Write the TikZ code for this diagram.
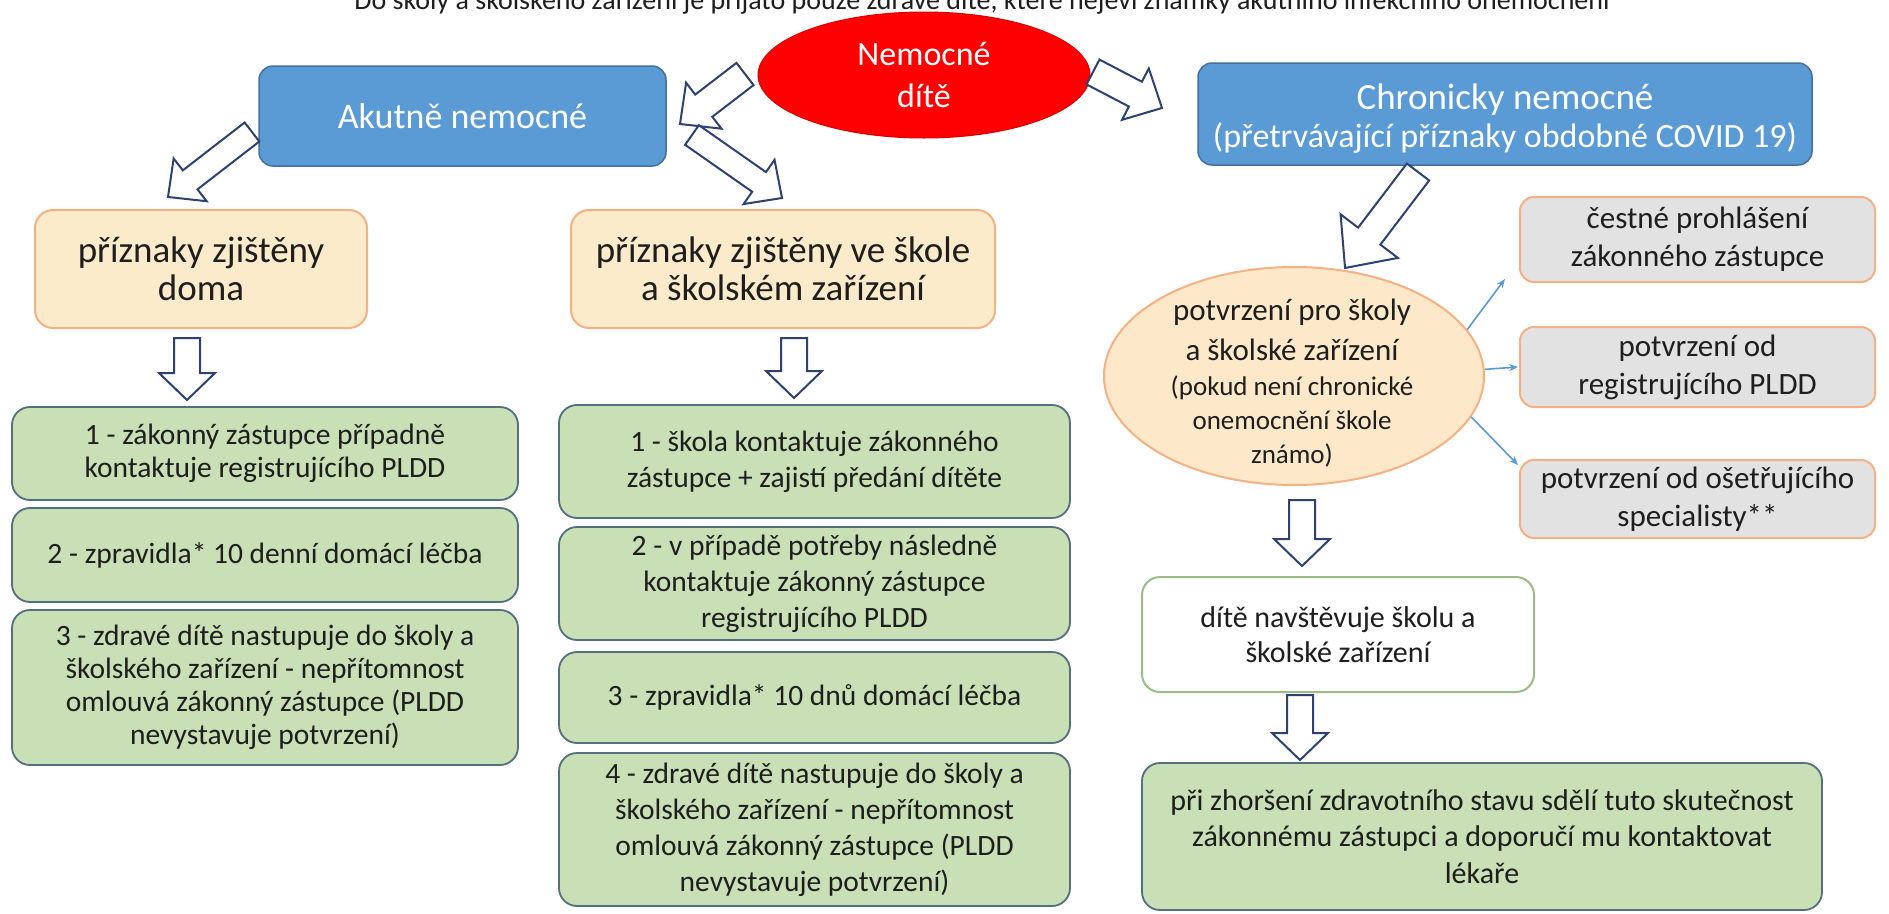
\documentclass[tikz,border=0pt]{standalone}
\usepackage{fontspec}
\setmainfont{Carlito}
\usetikzlibrary{calc,shapes.geometric,arrows.meta}
\definecolor{blueF}{HTML}{5B9BD5}
\definecolor{blueD}{HTML}{41719C}
\definecolor{redF}{HTML}{FF0000}
\definecolor{yelF}{HTML}{FCEBCB}
\definecolor{orgD}{HTML}{F4B183}
\definecolor{grnF}{HTML}{C9DFB5}
\definecolor{grnD}{HTML}{52707E}
\definecolor{gryF}{HTML}{E2E2E2}
\definecolor{pchF}{HTML}{FDE9C9}
\definecolor{navy}{HTML}{2F4170}
\definecolor{ltgrn}{HTML}{9CBB88}
\definecolor{txt}{HTML}{1E1E1E}
\newcommand\fs[2]{\fontsize{#1}{#2}\selectfont}
\newcommand\blockarr[5]{%
  \draw[navy, fill=white, line width=2pt, line join=miter]
    let \p1=(#1), \p2=(#2),
        \n1={atan2(\y2-\y1,\x2-\x1)},
        \n2={veclen(\x2-\x1,\y2-\y1)} in
    [shift={(\p1)}, rotate=\n1]
    (0,-#3) -- ({\n2-#5},-#3) -- ({\n2-#5},-#4) -- (\n2,0)
    -- ({\n2-#5},#4) -- ({\n2-#5},#3) -- (0,#3) -- cycle;}
\tikzset{
  base/.style={align=center, inner sep=0pt, text=txt},
  bluebox/.style={base, rectangle, rounded corners=14pt, fill=blueF, draw=blueD, line width=1.5pt, text=white},
  yelbox/.style={base, rectangle, rounded corners=18pt, fill=yelF, draw=orgD, line width=2pt, font=\fs{37}{38}},
  grnbox/.style={base, rectangle, rounded corners=18pt, fill=grnF, draw=grnD, line width=1.8pt, font=\fs{29.5}{33}},
  grnboxm/.style={grnbox, font=\fs{29.5}{36}},
  grybox/.style={base, rectangle, rounded corners=14pt, fill=gryF, draw=orgD, line width=2pt, font=\fs{31}{38}},
  thinarr/.style={blueF, line width=1.6pt, -{Stealth[length=9pt,width=7pt]}}
}
\begin{document}
\begin{tikzpicture}[x=1pt,y=-1pt]
\useasboundingbox (0,0) rectangle (1889,913);
\fill[white] (0,0) rectangle (1889,913);

\node[anchor=base, font=\fs{28}{32}, text=txt, inner sep=0pt] (title) at (982,9)
  {Do školy a školského zařízení je přijato pouze zdravé dítě, které nejeví známky akutního infekčního onemocnění};

% top level
\node[base, ellipse, fill=redF, draw=red!85!black, line width=1pt, minimum width=332pt, minimum height=126pt,
  text=white, font=\fs{34}{42}] (ell) at (924,75) {Nemocné\\dítě};
\node[bluebox, minimum width=407pt, minimum height=100pt, font=\fs{36}{40}] (ak) at (462.5,116) {Akutně nemocné};
\node[bluebox, minimum width=614pt, minimum height=102pt] (ch) at (1505,114) {};
\node[base, text=white, font=\fs{34}{38}] (chT) at (1505,119)
  {\fs{37}{38}Chronicky nemocné\\(přetrvávající příznaky obdobné COVID 19)};

% acute branch
\node[yelbox, minimum width=332pt, minimum height=118pt] (yl) at (201,269) {příznaky zjištěny\\doma};
\node[yelbox, minimum width=424pt, minimum height=118pt] (ym) at (783,269) {příznaky zjištěny ve škole\\a školském zařízení};

\node[grnbox, minimum width=506pt, minimum height=93pt] (gl1) at (265,453.5)
  {1 - zákonný zástupce případně\\kontaktuje registrujícího PLDD};
\node[grnbox, minimum width=506pt, minimum height=94pt] (gl2) at (265,555)
  {2 - zpravidla* 10 denní domácí léčba};
\node[grnbox, minimum width=506pt, minimum height=155pt] (gl3) at (265,687.5)
  {3 - zdravé dítě nastupuje do školy a\\školského zařízení - nepřítomnost\\omlouvá zákonný zástupce (PLDD\\nevystavuje potvrzení)};

\node[grnboxm, minimum width=511pt, minimum height=113pt] (gm1) at (814.5,461.5)
  {1 - škola kontaktuje zákonného\\zástupce + zajistí předání dítěte};
\node[grnboxm, minimum width=511pt, minimum height=113pt] (gm2) at (814.5,583.5)
  {2 - v případě potřeby následně\\kontaktuje zákonný zástupce\\registrujícího PLDD};
\node[grnboxm, minimum width=511pt, minimum height=91pt] (gm3) at (814.5,697.5)
  {3 - zpravidla* 10 dnů domácí léčba};
\node[grnboxm, minimum width=511pt, minimum height=153pt] (gm4) at (814.5,829.5)
  {4 - zdravé dítě nastupuje do školy a\\školského zařízení - nepřítomnost\\omlouvá zákonný zástupce (PLDD\\nevystavuje potvrzení)};

% chronic branch
\node[base, ellipse, fill=pchF, draw=orgD, line width=2pt, minimum width=380pt, minimum height=218pt] (pe) at (1294,376) {};
\node[base, font=\fs{31}{40}] (peT) at (1292,383)
  {potvrzení pro školy\\a školské zařízení\\[-5pt]\fs{27}{33}(pokud není chronické\\[-6pt]\fs{27}{33}onemocnění škole\\[-6pt]\fs{27}{33}známo)};
\node[grybox, minimum width=355pt, minimum height=85pt] (gr1) at (1697.5,239.5) {čestné prohlášení\\zákonného zástupce};
\node[grybox, minimum width=355pt, minimum height=80pt] (gr2) at (1697.5,367) {potvrzení od\\registrujícího PLDD};
\node[grybox, minimum width=355pt, minimum height=78pt] (gr3) at (1697.5,499) {potvrzení od ošetřujícího\\specialisty**};
\node[base, rectangle, rounded corners=18pt, fill=white, draw=ltgrn, line width=2pt, minimum width=392pt,
  minimum height=115pt, font=\fs{30}{35}] (dt) at (1338,634.5) {dítě navštěvuje školu a\\školské zařízení};
\node[grnbox, minimum width=680pt, minimum height=147pt, font=\fs{30}{36.7}] (gb) at (1482,836.5)
  {při zhoršení zdravotního stavu sdělí tuto skutečnost\\zákonnému zástupci a doporučí mu kontaktovat\\lékaře};

% block arrow end points
\coordinate (e2aS) at (745,74);   \coordinate (e2aE) at (680,124);
\coordinate (e2cS) at (1093,72);  \coordinate (e2cE) at (1162,108);
\coordinate (a2lS) at (252,132);  \coordinate (a2lE) at (168,197);
\coordinate (a2mS) at (692,135);  \coordinate (a2mE) at (782,198);
\coordinate (ylS) at (187,338);   \coordinate (ylE) at (187,400);
\coordinate (ymS) at (794,338);   \coordinate (ymE) at (794,398);
\coordinate (c2pS) at (1418,172); \coordinate (c2pE) at (1345,268);
\coordinate (peS) at (1302,500);  \coordinate (peE) at (1302,566);
\coordinate (dtS) at (1300,695);  \coordinate (dtE) at (1300,760);

\blockarr{e2aS}{e2aE}{14}{29}{30}
\blockarr{e2cS}{e2cE}{14}{29}{30}
\blockarr{a2lS}{a2lE}{12}{27}{28}
\blockarr{a2mS}{a2mE}{12}{27}{28}
\blockarr{ylS}{ylE}{13}{28}{27}
\blockarr{ymS}{ymE}{13}{28}{27}
\blockarr{c2pS}{c2pE}{14}{36}{40}
\blockarr{peS}{peE}{13}{28}{27}
\blockarr{dtS}{dtE}{13}{28}{27}

% thin arrows
\coordinate (t1E) at (1505,279);
\coordinate (t2E) at (1518,367);
\coordinate (t3E) at (1518,465);
\draw[thinarr] (pe.15) -- (t1E);
\draw[thinarr] (pe.2) -- (t2E);
\draw[thinarr] (pe.-13) -- (t3E);
\end{tikzpicture}
\end{document}
